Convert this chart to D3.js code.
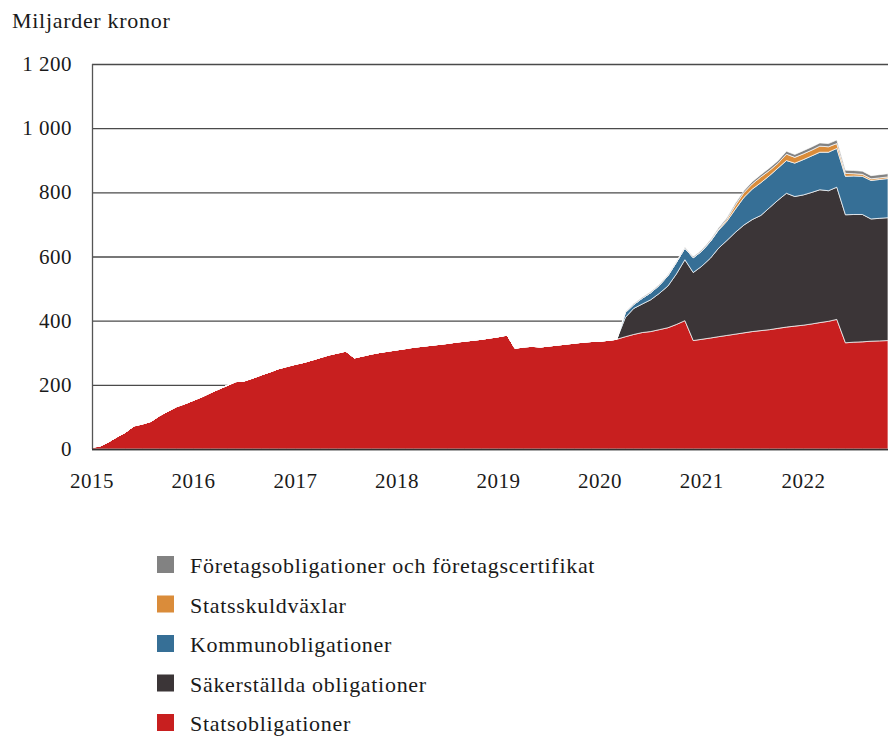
<!DOCTYPE html>
<html>
<head>
<meta charset="utf-8">
<script src="https://cdn.jsdelivr.net/npm/d3@7"></script>
<style>
  body { margin: 0; background: #fff; }
  svg text { font-family: "Liberation Serif", "DejaVu Serif", serif; fill: #1a1a1a; }
</style>
</head>
<body>
<svg id="chart" width="888" height="737"></svg>
<script>
// monthly, Jan 2015 .. Nov 2022 (miljarder kronor)
const startMonth = new Date(2015, 0, 1);

const statsobligationer = [
  5, 10, 22, 38, 52, 72, 78, 86, 104, 118, 132, 141,
  152, 163, 175, 187, 198, 210, 212, 221, 231, 240, 250, 257,
  264, 270, 277, 285, 293, 299, 305, 284, 290, 296, 301, 305,
  309, 313, 317, 320, 323, 326, 329, 333, 336, 339, 342, 346,
  350, 355, 314, 318, 320, 318, 321, 324, 327, 330, 333, 335,
  336, 339, 342, 350, 357, 363, 366, 372, 378, 388, 400, 338,
  342, 346, 350, 354, 358, 362, 366, 369, 372, 376, 380, 383,
  386, 390, 394, 398, 404, 331, 333, 334, 336, 337, 338
];

const sakerstallda = [
  0, 0, 0, 0, 0, 0, 0, 0, 0, 0, 0, 0,
  0, 0, 0, 0, 0, 0, 0, 0, 0, 0, 0, 0,
  0, 0, 0, 0, 0, 0, 0, 0, 0, 0, 0, 0,
  0, 0, 0, 0, 0, 0, 0, 0, 0, 0, 0, 0,
  0, 0, 0, 0, 0, 0, 0, 0, 0, 0, 0, 0,
  0, 0, 0, 60, 81, 89, 99, 113, 130, 157, 190, 212,
  228, 249, 275, 296, 317, 336, 349, 359, 380, 399, 417, 404,
  406, 410, 414, 407, 412, 399, 398, 397, 381, 382, 383
];

const kommunobligationer = [
  0, 0, 0, 0, 0, 0, 0, 0, 0, 0, 0, 0,
  0, 0, 0, 0, 0, 0, 0, 0, 0, 0, 0, 0,
  0, 0, 0, 0, 0, 0, 0, 0, 0, 0, 0, 0,
  0, 0, 0, 0, 0, 0, 0, 0, 0, 0, 0, 0,
  0, 0, 0, 0, 0, 0, 0, 0, 0, 0, 0, 0,
  0, 0, 0, 15, 12, 18, 22, 25, 32, 36, 36, 46,
  47, 52, 56, 60, 72, 86, 95, 102, 100, 100, 102, 104,
  110, 114, 117, 120, 121, 120, 120, 119, 120, 121, 122
];

const statsskuldvaxlar = [
  0, 0, 0, 0, 0, 0, 0, 0, 0, 0, 0, 0,
  0, 0, 0, 0, 0, 0, 0, 0, 0, 0, 0, 0,
  0, 0, 0, 0, 0, 0, 0, 0, 0, 0, 0, 0,
  0, 0, 0, 0, 0, 0, 0, 0, 0, 0, 0, 0,
  0, 0, 0, 0, 0, 0, 0, 0, 0, 0, 0, 0,
  0, 0, 0, 0, 0, 0, 0, 0, 0, 0, 0, 0,
  0, 1, 2, 6, 12, 15, 16, 18, 16, 15, 20, 18,
  18, 18, 19, 17, 15, 9, 7, 6, 5, 5, 5
];

const foretag = [
  0, 0, 0, 0, 0, 0, 0, 0, 0, 0, 0, 0,
  0, 0, 0, 0, 0, 0, 0, 0, 0, 0, 0, 0,
  0, 0, 0, 0, 0, 0, 0, 0, 0, 0, 0, 0,
  0, 0, 0, 0, 0, 0, 0, 0, 0, 0, 0, 0,
  0, 0, 0, 0, 0, 0, 0, 0, 0, 0, 0, 0,
  0, 0, 0, 2, 3, 3, 3, 3, 3, 3, 3, 3,
  4, 4, 5, 5, 6, 6, 7, 7, 8, 8, 9, 9,
  10, 10, 10, 10, 11, 10, 10, 10, 10, 10, 10
];

const seriesKeys = ["stats", "saker", "kommun", "vaxlar", "foretag"];
const seriesNames = [
  "Statsobligationer",
  "Säkerställda obligationer",
  "Kommunobligationer",
  "Statsskuldväxlar",
  "Företagsobligationer och företagscertifikat"
];
const seriesColors = ["#c81f1f", "#3b3537", "#366f96", "#da8c3a", "#828282"];

const yTicks = [0, 200, 400, 600, 800, 1000, 1200];
const yearTicks = [2015, 2016, 2017, 2018, 2019, 2020, 2021, 2022];

const rows = statsobligationer.map((v, i) => ({
  date: d3.timeMonth.offset(startMonth, i),
  stats: v,
  saker: sakerstallda[i],
  kommun: kommunobligationer[i],
  vaxlar: statsskuldvaxlar[i],
  foretag: foretag[i]
}));

const svg = d3.select("#chart");
const margin = { left: 92, right: 0, top: 64, bottom: 288 };
const width = 888, height = 737;

const x = d3.scaleTime()
  .domain([rows[0].date, rows[rows.length - 1].date])
  .range([margin.left, width - margin.right]);
const y = d3.scaleLinear()
  .domain([0, 1200])
  .range([height - margin.bottom, margin.top]);

const fmt = d3.formatLocale({ decimal: ",", thousands: " ", grouping: [3], currency: ["", " kr"] }).format(",d");

// grid
svg.append("g")
  .selectAll("line")
  .data(yTicks)
  .join("line")
  .attr("x1", margin.left)
  .attr("x2", width)
  .attr("y1", d => y(d) + 0.5)
  .attr("y2", d => y(d) + 0.5)
  .attr("stroke", "#4a4a4a")
  .attr("stroke-width", 1.3);

// areas
const stack = d3.stack().keys(seriesKeys);
const layers = stack(rows);
const area = d3.area()
  .x(d => x(d.data.date))
  .y0(d => y(d[0]))
  .y1(d => y(d[1]));

svg.append("g")
  .selectAll("path")
  .data(layers)
  .join("path")
  .attr("d", area)
  .attr("fill", (d, i) => seriesColors[i])
  .attr("stroke", "#fff")
  .attr("stroke-width", 0.7)
  .attr("stroke-linejoin", "round");

// axes lines
svg.append("line")
  .attr("x1", margin.left + 0.5).attr("x2", margin.left + 0.5)
  .attr("y1", y(1200)).attr("y2", y(0))
  .attr("stroke", "#555").attr("stroke-width", 1.3);
svg.append("line")
  .attr("x1", margin.left).attr("x2", width)
  .attr("y1", y(0) + 0.5).attr("y2", y(0) + 0.5)
  .attr("stroke", "#333").attr("stroke-width", 1.5);

// y labels
svg.append("g")
  .selectAll("text")
  .data(yTicks)
  .join("text")
  .attr("x", 72)
  .attr("y", d => y(d) + 7)
  .attr("text-anchor", "end")
  .attr("font-size", 21)
  .attr("letter-spacing", 0.5)
  .text(d => fmt(d));

// x labels
svg.append("g")
  .selectAll("text")
  .data(yearTicks)
  .join("text")
  .attr("x", d => x(new Date(d, 0, 1)))
  .attr("y", 488)
  .attr("text-anchor", "middle")
  .attr("font-size", 21)
  .attr("letter-spacing", 0.5)
  .text(d => d);

svg.append("text")
  .attr("x", 12)
  .attr("y", 28)
  .attr("font-size", 22)
  .attr("letter-spacing", 0.7)
  .text("Miljarder kronor");

// legend, top entry is the top layer
const legendOrder = [4, 3, 2, 1, 0];
const legend = svg.append("g")
  .selectAll("g")
  .data(legendOrder)
  .join("g")
  .attr("transform", (d, i) => `translate(157, ${556 + i * 39.5})`);
legend.append("rect")
  .attr("width", 17)
  .attr("height", 17)
  .attr("fill", d => seriesColors[d]);
legend.append("text")
  .attr("x", 33)
  .attr("y", 17)
  .attr("font-size", 22)
  .attr("letter-spacing", 0.7)
  .text(d => seriesNames[d]);
</script>
</body>
</html>
